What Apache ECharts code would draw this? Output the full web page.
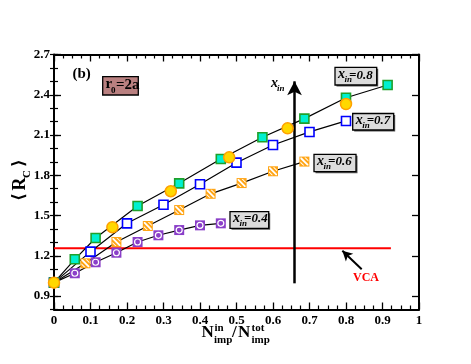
<!DOCTYPE html>
<html><head><meta charset="utf-8">
<script src="https://cdn.jsdelivr.net/npm/echarts@6/dist/echarts.min.js"></script>
<style>html,body{margin:0;padding:0;background:#fff}#c{width:471px;height:364px}</style>
</head><body><div id="c"></div><script>
// ---- data ----
const xs08 = [0, 0.057, 0.114, 0.229, 0.343, 0.457, 0.571, 0.686, 0.8, 0.914];
const ys08 = [1.0, 1.174, 1.333, 1.571, 1.740, 1.921, 2.083, 2.222, 2.378, 2.473];
const xs07 = [0, 0.1, 0.2, 0.3, 0.4, 0.5, 0.6, 0.7, 0.8];
const ys07 = [1.0, 1.231, 1.442, 1.581, 1.733, 1.894, 2.026, 2.123, 2.205];
const xs06 = [0, 0.086, 0.171, 0.257, 0.343, 0.429, 0.514, 0.6, 0.686];
const ys06 = [1.0, 1.144, 1.303, 1.422, 1.541, 1.662, 1.742, 1.830, 1.902];
const xs04 = [0, 0.057, 0.114, 0.171, 0.229, 0.286, 0.343, 0.4, 0.457];
const ys04 = [1.0, 1.070, 1.152, 1.223, 1.303, 1.353, 1.392, 1.427, 1.442];
const xsCirc = [0, 0.16, 0.32, 0.48, 0.64, 0.8];
const ysCirc = [1.0, 1.413, 1.681, 1.934, 2.150, 2.331];
const vcaValue = 1.256;
const vcaRange = [0, 0.923];
const xinArrow = { x: 0.659, from: 0.995, to: 2.50 };
const vcaArrow = { from: [0.843, 1.10], to: [0.79, 1.238] };
const yTickLabels = [0.9, 1.2, 1.5, 1.8, 2.1, 2.4, 2.7];
const xTickLabels = [0, 0.1, 0.2, 0.3, 0.4, 0.5, 0.6, 0.7, 0.8, 0.9, 1];

const zip = (a, b) => a.map((v, i) => [v, b[i]]);
const FF = '"Liberation Serif","Times New Roman",serif';

const chart = echarts.init(document.getElementById('c'), null, {renderer: 'canvas'});

const axLine = {show: true, onZero: false, lineStyle: {color: '#000', width: 2}};
function xAx(pos, labels) {
  return {
    type: 'value', min: 0, max: 1, interval: 0.1, position: pos,
    axisLine: axLine,
    axisTick: {show: true, inside: true, length: 7, lineStyle: {color: '#000', width: 1.3}},
    minorTick: {show: true, splitNumber: 4, length: 4, lineStyle: {color: '#000', width: 1.2}},
    splitLine: {show: false}, minorSplitLine: {show: false},
    axisLabel: labels ? {
      show: true, color: '#000', fontFamily: FF, fontWeight: 'bold', fontSize: 13, margin: 5,
      formatter: v => String(+(+v).toFixed(1))
    } : {show: false}
  };
}
function yMajor(pos, labels) {
  return {
    type: 'value', min: 0.8, max: 2.7, position: pos,
    axisLine: axLine,
    axisTick: {show: true, inside: true, length: 7, customValues: yTickLabels, lineStyle: {color: '#000', width: 1.3}},
    splitLine: {show: false},
    axisLabel: labels ? {
      show: true, color: '#000', fontFamily: FF, fontWeight: 'bold', fontSize: 13, margin: 4,
      customValues: yTickLabels, formatter: v => (+v).toFixed(1)
    } : {show: false}
  };
}
function yMinor(pos) {
  return {
    type: 'value', min: 0.8, max: 2.7, interval: 0.1, position: pos,
    axisLine: {show: false},
    axisTick: {show: true, inside: true, length: 4, lineStyle: {color: '#000', width: 1.2}},
    splitLine: {show: false}, axisLabel: {show: false}
  };
}

function lineSeries(xs, ys) {
  return {type: 'line', data: zip(xs, ys), showSymbol: false, symbol: 'none',
    lineStyle: {color: '#000', width: 1.2}, z: 2, silent: true, animation: false};
}
function scat(xs, ys, symbol, size, style, z) {
  return {type: 'scatter', data: zip(xs, ys), symbol: symbol, symbolSize: size,
    itemStyle: Object.assign({opacity: 1}, style), z: z, silent: true, animation: false};
}
const hatch = 'path://M0,0 L1.6,0 L10,8.4 L10,10 L8.4,10 L0,1.6 Z M5,0 L6.6,0 L10,3.4 L10,5 Z M0,5 L5,10 L3.4,10 L0,6.6 Z';

const series = [
  lineSeries(xs08, ys08), lineSeries(xs07, ys07), lineSeries(xs06, ys06), lineSeries(xs04, ys04),
  {type: 'line', data: [[vcaRange[0], vcaValue], [vcaRange[1], vcaValue]], symbol: 'none',
   lineStyle: {color: '#ff0000', width: 2}, z: 1, silent: true, animation: false},
  scat(xs04, ys04, 'rect', 10, {color: '#8a3fc8'}, 5),
  scat(xs04, ys04, 'circle', 6, {color: '#8a3fc8', borderColor: '#fff', borderWidth: 1.2}, 6),
  scat(xs06, ys06, 'rect', 10, {color: '#ffa516'}, 5),
  scat(xs06, ys06, hatch, 8, {color: '#ffffff'}, 6),
  scat(xs07, ys07, 'rect', 9, {color: '#ffffff', borderColor: '#0000ff', borderWidth: 1.6}, 5),
  scat(xs08, ys08, 'rect', 9, {color: '#00f0d0', borderColor: '#1fa02a', borderWidth: 1.6}, 5),
  scat(xsCirc, ysCirc, 'circle', 11, {color: '#ffd800', borderColor: '#ffa000', borderWidth: 1.5}, 8),
  {type: 'line', data: [], z: 9, silent: true, animation: false,
   markLine: {silent: true, animation: false, symbol: ['none', 'arrow'], symbolSize: [11, 14], label: {show: false},
     lineStyle: {color: '#000', width: 2.5, type: 'solid'},
     data: [[{coord: [xinArrow.x, xinArrow.from]}, {coord: [xinArrow.x, xinArrow.to]}]]}},
  {type: 'line', data: [], z: 9, silent: true, animation: false,
   markLine: {silent: true, animation: false, symbol: ['none', 'arrow'], symbolSize: [8, 10], label: {show: false},
     lineStyle: {color: '#000', width: 2, type: 'solid'},
     data: [[{coord: vcaArrow.from}, {coord: vcaArrow.to}]]}}
];

function txt(text, x, y, size, opts) {
  opts = opts || {};
  return {type: 'text', x: x, y: y, z: 100, silent: true,
    style: {text: text, fontFamily: FF, fontSize: size, fontWeight: 'bold',
      fontStyle: opts.italic ? 'italic' : 'normal', fill: opts.fill || '#000',
      align: opts.align || 'left', verticalAlign: 'middle'}};
}
function xinBox(x0, y0, w, h, val) {
  const cy = y0 + h / 2;
  return [
    {type: 'rect', shape: {x: x0 + 1.5, y: y0 + 1.5, width: w, height: h}, style: {fill: '#555'}, z: 98, silent: true},
    {type: 'rect', shape: {x: x0, y: y0, width: w, height: h}, style: {fill: '#dcdcdc', stroke: '#000', lineWidth: 1.3}, z: 99, silent: true},
    txt('x', x0 + 3, cy - 1.5, 14, {italic: true}),
    txt('in', x0 + 9.5, cy + 4, 9, {italic: true}),
    txt('=' + val, x0 + 14, cy - 1, 13, {italic: true})
  ];
}

const graphics = [].concat(
  [txt('(b)', 72.5, 74, 15)],
  [{type: 'rect', shape: {x: 102.7, y: 76.7, width: 35.6, height: 18.3}, style: {fill: '#b98080', stroke: '#000', lineWidth: 1.3}, z: 99, silent: true},
   txt('r', 105.5, 84.5, 15), txt('0', 111, 90.5, 9), txt('=2a', 116, 85, 15)],
  xinBox(335, 67.3, 41.7, 17.7, '0.8'),
  xinBox(352.7, 113.5, 41, 16.5, '0.7'),
  xinBox(314, 154.3, 42, 17.4, '0.6'),
  xinBox(230, 211.7, 38.7, 16.6, '0.4'),
  [txt('x', 271, 83, 14, {italic: true}), txt('in', 277, 89, 9, {italic: true})],
  [txt('VCA', 366, 277.5, 12, {fill: '#ff0000', align: 'center'})],
  // x-axis title
  [txt('N', 201.5, 332.5, 17), txt('in', 214.5, 328.5, 11), txt('imp', 214, 340.5, 11),
   txt('/', 232, 332.5, 17), txt('N', 238, 332.5, 17), txt('tot', 251.5, 328.5, 11), txt('imp', 251.5, 340.5, 11)],
  // y-axis title (rotated)
  [{type: 'group', x: 20, y: 180, rotation: Math.PI / 2, z: 100, silent: true,
    children: [
      {type: 'text', x: -17, y: 0, style: {text: '\u27E8', fontFamily: '"DejaVu Serif",serif', fontSize: 17, fontWeight: 'bold', fill: '#000', align: 'center', verticalAlign: 'middle'}},
      {type: 'text', x: -4, y: 0, style: {text: 'R', fontFamily: FF, fontSize: 18, fontWeight: 'bold', fill: '#000', align: 'center', verticalAlign: 'middle'}},
      {type: 'text', x: 6, y: 7, style: {text: 'C', fontFamily: FF, fontSize: 11, fontWeight: 'bold', fill: '#000', align: 'center', verticalAlign: 'middle'}},
      {type: 'text', x: 17, y: 0, style: {text: '\u27E9', fontFamily: '"DejaVu Serif",serif', fontSize: 17, fontWeight: 'bold', fill: '#000', align: 'center', verticalAlign: 'middle'}}
    ]}]
);

chart.setOption({
  animation: false,
  backgroundColor: '#fff',
  grid: {left: 54, right: 52, top: 54.5, bottom: 54.5, containLabel: false},
  xAxis: [xAx('bottom', true), xAx('top', false)],
  yAxis: [yMajor('left', true), yMinor('left'), yMajor('right', false), yMinor('right')],
  series: series,
  graphic: graphics
});
</script></body></html>
